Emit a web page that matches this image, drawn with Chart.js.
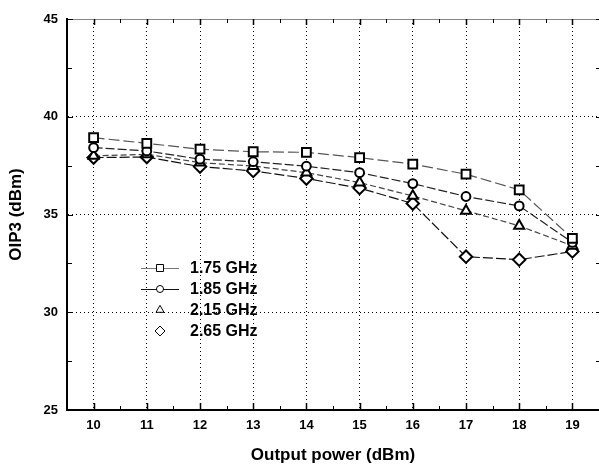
<!DOCTYPE html>
<html>
<head>
<meta charset="utf-8">
<script src="https://cdn.jsdelivr.net/npm/chart.js@4.4.1/dist/chart.umd.min.js"></script>
<style>
  html, body { margin: 0; padding: 0; background: #fff; }
  #wrap { width: 599px; height: 471px; }
</style>
</head>
<body>
<div id="wrap"><canvas id="oip3Chart" width="599" height="471"></canvas></div>
<script>
// Output power (dBm) on the x axis
const powerLevels = [10, 11, 12, 13, 14, 15, 16, 17, 18, 19];
const yTickValues = [25, 30, 35, 40, 45];

// OIP3 (dBm) per frequency
const oip3_175 = [38.93, 38.64, 38.34, 38.21, 38.18, 37.91, 37.58, 37.06, 36.26, 33.78];
const oip3_185 = [38.42, 38.25, 37.83, 37.70, 37.47, 37.14, 36.58, 35.92, 35.44, 33.57];
const oip3_215 = [38.00, 38.08, 37.65, 37.48, 37.14, 36.63, 35.95, 35.19, 34.42, 33.40];
const oip3_265 = [37.91, 37.94, 37.45, 37.23, 36.84, 36.35, 35.56, 32.84, 32.69, 33.11];

const seriesLabels = ['1.75 GHz', '1.85 GHz', '2.15 GHz', '2.65 GHz'];

const FONT = '"Liberation Sans", Arial, sans-serif';

function toPoints(values) {
    return values.map((v, i) => ({ x: powerLevels[i], y: v }));
}

function makeSet(label, values, style, radius, lineColor, dash) {
    return {
        label: label,
        data: toPoints(values),
        borderColor: lineColor,
        borderWidth: 1.2,
        borderDash: dash,
        pointStyle: style,
        pointRadius: radius,
        pointBackgroundColor: '#fff',
        pointBorderColor: '#000',
        pointBorderWidth: 2,
        tension: 0,
        fill: false
    };
}

const datasets = [
    makeSet(seriesLabels[0], oip3_175, 'rect', 6.2, '#555', [11, 4]),
    makeSet(seriesLabels[1], oip3_185, 'circle', 4.4, '#222', [9, 3]),
    makeSet(seriesLabels[2], oip3_215, 'triangle', 5.8, '#444', [6, 3]),
    makeSet(seriesLabels[3], oip3_265, 'rectRot', 6.2, '#111', [10, 3])
];

// frame, inward tick marks and the in-plot legend
const framePlugin = {
    id: 'frame',
    afterDatasetsDraw(chart) {
        const ctx = chart.ctx;
        const area = chart.chartArea;
        const xs = chart.scales.x;
        const ys = chart.scales.y;
        ctx.save();

        // top line (gray)
        ctx.strokeStyle = '#888';
        ctx.lineWidth = 1;
        ctx.beginPath();
        ctx.moveTo(area.left, area.top + 0.5);
        ctx.lineTo(area.right, area.top + 0.5);
        ctx.stroke();

        // x ticks (bottom up, top down)
        for (let v = xs.min + 0.5; v < xs.max; v += 0.5) {
            const px = Math.round(xs.getPixelForValue(v)) + 0.5;
            const major = Number.isInteger(v);
            ctx.strokeStyle = '#000';
            ctx.lineWidth = major ? 1.5 : 1;
            ctx.beginPath();
            ctx.moveTo(px, area.bottom);
            ctx.lineTo(px, area.bottom - (major ? 7 : 4));
            ctx.moveTo(px, area.top);
            ctx.lineTo(px, area.top + (major ? 6 : 4));
            ctx.stroke();
        }

        // y ticks (left inward, right inward)
        for (let v = ys.min; v <= ys.max; v += 2.5) {
            const py = Math.round(ys.getPixelForValue(v)) + 0.5;
            const major = v % 5 === 0;
            ctx.strokeStyle = '#000';
            ctx.lineWidth = 1;
            ctx.beginPath();
            ctx.moveTo(area.left, py);
            ctx.lineTo(area.left + (major ? 6 : 5), py);
            ctx.moveTo(area.right, py);
            ctx.lineTo(area.right - 3, py);
            ctx.stroke();
        }

        // legend
        const lx = 141, ly = 268, rowH = 21;
        datasets.forEach((ds, i) => {
            const y = ly + i * rowH;
            if (i < 2) {
                ctx.strokeStyle = i === 0 ? '#777' : '#111';
                ctx.lineWidth = 1;
                ctx.setLineDash([]);
                ctx.beginPath();
                ctx.moveTo(lx, y + 0.5);
                ctx.lineTo(lx + 38, y + 0.5);
                ctx.stroke();
            }
            ctx.fillStyle = '#fff';
            ctx.strokeStyle = '#000';
            Chart.helpers.drawPoint(ctx, {
                pointStyle: ds.pointStyle,
                radius: ds.pointRadius * 0.8,
                rotation: 0,
                borderWidth: 2
            }, lx + 19, y);
            ctx.fillStyle = '#000';
            ctx.font = 'bold 16px ' + FONT;
            ctx.textAlign = 'left';
            ctx.textBaseline = 'middle';
            ctx.fillText(ds.label, lx + 49, y + 1);
        });

        ctx.restore();
    }
};

const ctx = document.getElementById('oip3Chart').getContext('2d');
const oip3Chart = new Chart(ctx, {
    type: 'line',
    data: { datasets: datasets },
    options: {
        responsive: false,
        animation: false,
        layout: { autoPadding: false, padding: { top: 19, right: 0, left: 0, bottom: 0 } },
        plugins: {
            legend: { display: false },
            tooltip: { enabled: false }
        },
        scales: {
            x: {
                type: 'linear',
                min: 9.5,
                max: 19.5,
                afterBuildTicks: (scale) => {
                    scale.ticks = powerLevels.map(v => ({ value: v }));
                },
                afterFit: (scale) => {
                    scale.height = 61;
                    scale.paddingLeft = 0;
                    scale.paddingRight = 0;
                },
                grid: {
                    color: '#000',
                    lineWidth: 1,
                    drawTicks: false
                },
                border: { display: true, color: '#000', width: 2, dash: [1, 3] },
                ticks: {
                    color: '#000',
                    padding: 8,
                    maxRotation: 0,
                    font: { family: FONT, size: 13, weight: 'bold' }
                },
                title: {
                    display: true,
                    text: 'Output power (dBm)',
                    color: '#000',
                    padding: { top: 0, bottom: 5 },
                    font: { family: FONT, size: 17, weight: 'bold' }
                }
            },
            y: {
                min: 25,
                max: 45,
                afterBuildTicks: (scale) => {
                    scale.ticks = yTickValues.map(v => ({ value: v }));
                },
                afterFit: (scale) => {
                    scale.width = 67;
                    scale.paddingTop = 0;
                    scale.paddingBottom = 0;
                },
                grid: {
                    color: (c) => (c.tick && (c.tick.value === 25 || c.tick.value === 45)) ? 'rgba(0,0,0,0)' : '#000',
                    lineWidth: 1,
                    drawTicks: false
                },
                border: { display: true, color: '#000', width: 2, dash: [1, 3] },
                ticks: {
                    color: '#000',
                    padding: 9,
                    font: { family: FONT, size: 13, weight: 'bold' }
                },
                title: {
                    display: true,
                    text: 'OIP3 (dBm)',
                    color: '#000',
                    padding: { top: 6, bottom: 0 },
                    font: { family: FONT, size: 17, weight: 'bold' }
                }
            }
        }
    },
    plugins: [framePlugin]
});
</script>
</body>
</html>
